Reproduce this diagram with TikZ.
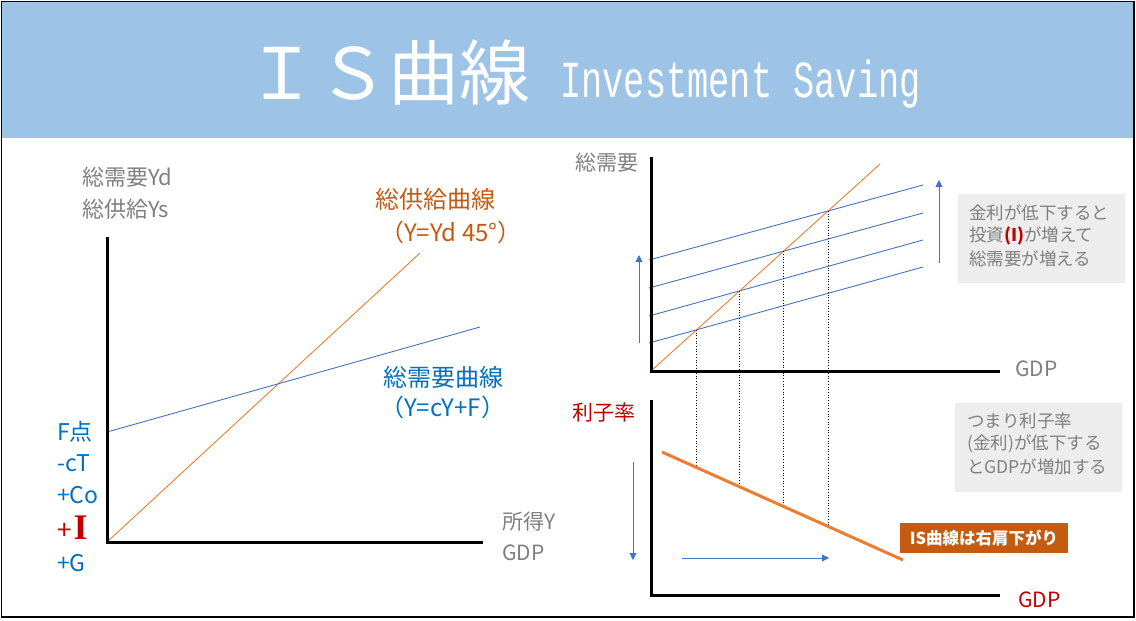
\documentclass[tikz,border=0pt]{standalone}
\usepackage{fontspec}
\setmainfont{Noto Sans CJK JP}
\newfontfamily\monofont{Liberation Mono}
\newfontfamily\serifI{Liberation Serif}
\usetikzlibrary{arrows.meta}
\definecolor{headblue}{HTML}{9DC3E6}
\definecolor{txtgray}{HTML}{7F7F7F}
\definecolor{orangeT}{HTML}{C55A11}
\definecolor{blueT}{HTML}{0070C0}
\definecolor{redT}{HTML}{C00000}
\definecolor{lineblue}{HTML}{4472C4}
\definecolor{lineorange}{HTML}{ED7D31}
\definecolor{boxgray}{HTML}{EDEDED}
\newcommand{\fsz}[1]{\fontsize{#1}{#1}\selectfont}
\tikzset{
  lbl/.style={inner sep=0pt, anchor=west},
  axis/.style={line width=3pt, black},
  bline/.style={lineblue, line width=0.9pt},
  oline/.style={lineorange, line width=0.9pt},
  vdot/.style={black, dotted, line width=0.7pt},
  barrow/.style={lineblue, line width=0.9pt, -{Triangle[width=7pt,length=7pt]}},
}
\begin{document}
\begin{tikzpicture}[x=1pt,y=-1pt]
\useasboundingbox (0,0) rectangle (1136,621);
% header
\fill[headblue] (1.5,1.5) rectangle (1134,138);
\node[inner sep=0pt, text=white] (title) at (388,72) {\fsz{71}ＩＳ曲線};
\node[inner sep=0pt, text=white, anchor=west, xscale=0.68] (sub) at (560,84) {\monofont\fsz{52}Investment Saving};
\draw[line width=1.2pt] (1.5,1.5) rectangle (1134,617);

% ---------- left chart ----------
\coordinate (LO) at (107,542);
\coordinate (LY) at (107,237);
\coordinate (LX) at (483,542);
\coordinate (LOr) at (420,253);
\coordinate (LB1) at (107,432);
\coordinate (LB2) at (480,327);
\draw[oline] (LO) -- (LOr);
\draw[bline] (LB1) -- (LB2);
\draw[axis] (LY) -- (LO) -- (LX);

\node[lbl, text=txtgray] (yd) at (82,177) {\fsz{22}総需要Yd};
\node[lbl, text=txtgray] (ys) at (82,209) {\fsz{22}総供給Ys};
\node[lbl, text=orangeT] (sup1) at (375,199) {\fsz{24}総供給曲線};
\node[lbl, text=orangeT] (sup2) at (380,232) {\fsz{24}（Y=Yd 45°）};
\node[lbl, text=blueT] (dem1) at (383,377) {\fsz{24}総需要曲線};
\node[lbl, text=blueT] (dem2) at (380,407) {\fsz{24}（Y=cY+F）};
\node[lbl, text=blueT] (f) at (57,432) {\fsz{23}F点};
\node[lbl, text=blueT] (ct) at (57,463) {\fsz{23}-cT};
\node[lbl, text=blueT] (co) at (57,495) {\fsz{23}+Co};
\node[lbl, text=redT] (pi) at (57,528) {\fsz{26}+\hspace{2pt}{\serifI\bfseries\fsz{36}I}};
\node[lbl, text=blueT] (pg) at (57,563) {\fsz{23}+G};
\node[lbl, text=txtgray] (inc) at (502,522) {\fsz{21}所得Y};
\node[lbl, text=txtgray] (gdp1) at (502,553) {\fsz{21}GDP};

% ---------- right top chart ----------
\coordinate (RO) at (651,371);
\coordinate (RY) at (651,157);
\coordinate (RX) at (1000,371);
\coordinate (ROr) at (880,164);
\coordinate (a1) at (649,343); \coordinate (b1) at (923,267);
\coordinate (a2) at (649,316); \coordinate (b2) at (923,240);
\coordinate (a3) at (649,288); \coordinate (b3) at (923,213);
\coordinate (a4) at (649,260); \coordinate (b4) at (923,185);
\draw[bline] (a1) -- (b1);
\draw[bline] (a2) -- (b2);
\draw[bline] (a3) -- (b3);
\draw[bline] (a4) -- (b4);
\draw[oline] (RO) -- (ROr);
% IS line
\coordinate (IS1) at (662,452);
\coordinate (IS2) at (903,560);
% crossings on the 45 degree line and on the IS line
\coordinate (p1) at (696.6,329.8); \coordinate (q1) at (696.6,467.5);
\coordinate (p2) at (739.7,290.8); \coordinate (q2) at (739.7,486.8);
\coordinate (p3) at (783.6,251.2); \coordinate (q3) at (783.6,506.5);
\coordinate (p4) at (828.0,211.0); \coordinate (q4) at (828.0,526.4);
\draw[vdot] (p1) -- (q1);
\draw[vdot] (p2) -- (q2);
\draw[vdot] (p3) -- (q3);
\draw[vdot] (p4) -- (q4);
\draw[axis] (RY) -- (RO) -- (RX);
\coordinate (ua1) at (639,343); \coordinate (ua2) at (639,255);
\draw[barrow] (ua1) -- (ua2);
\coordinate (ub1) at (939,263); \coordinate (ub2) at (939,180);
\draw[barrow] (ub1) -- (ub2);

\fill[boxgray] (958,194) rectangle (1125,283);
\node[lbl, text=txtgray] (t1) at (969,213) {\fsz{17.5}金利が低下すると};
\node[lbl, text=txtgray] (t2) at (969,236) {\fsz{17.5}投資\textcolor{redT}{\bfseries (I)}が増えて};
\node[lbl, text=txtgray] (t3) at (969,259) {\fsz{17.5}総需要が増える};

\node[lbl, text=txtgray] (agg) at (575,163) {\fsz{21}総需要};
\node[lbl, text=txtgray] (gdp2) at (1015,369) {\fsz{21}GDP};

% ---------- right bottom chart ----------
\coordinate (SO) at (651,595);
\coordinate (SY) at (651,400);
\coordinate (SX) at (1000,595);
\draw[lineorange, line width=3pt] (IS1) -- (IS2);
\draw[axis] (SY) -- (SO) -- (SX);
\coordinate (da1) at (633,462); \coordinate (da2) at (633,560);
\draw[barrow] (da1) -- (da2);
\coordinate (ra1) at (682,558); \coordinate (ra2) at (829,558);
\draw[barrow] (ra1) -- (ra2);

\node[lbl, text=redT] (rate) at (572,413) {\fsz{21}利子率};
\node[lbl, text=redT] (gdp3) at (1018,600) {\fsz{21}GDP};

\fill[boxgray] (955,403) rectangle (1122,492);
\node[lbl, text=txtgray] (s1) at (967,421) {\fsz{17.5}つまり利子率};
\node[lbl, text=txtgray] (s2) at (967,444) {\fsz{17.5}(金利)が低下する};
\node[lbl, text=txtgray] (s3) at (967,467) {\fsz{17.5}とGDPが増加する};

\node[fill=orangeT, text=white, minimum width=168pt, minimum height=30pt, inner sep=0pt] (isbox) at (984,538) {\fsz{16.5}\bfseries IS曲線は右肩下がり};
\end{tikzpicture}
\end{document}
